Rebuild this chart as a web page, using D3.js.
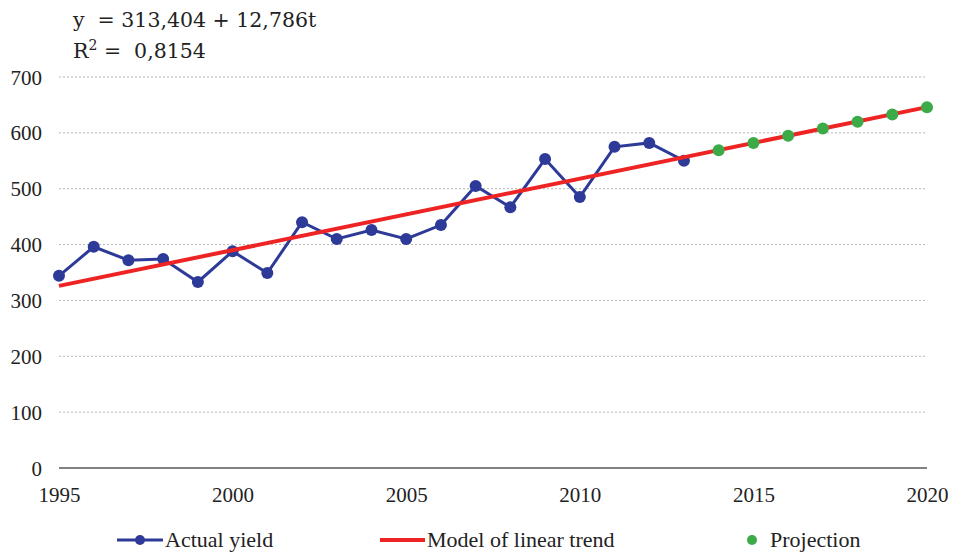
<!DOCTYPE html>
<html><head><meta charset="utf-8">
<script src="https://cdn.jsdelivr.net/npm/d3@7"></script>
<style>body{margin:0;background:#fff}svg{display:block}</style>
</head><body>
<svg id="c" width="953" height="552"></svg>
<script>
const years = [1995,1996,1997,1998,1999,2000,2001,2002,2003,2004,2005,2006,2007,2008,2009,2010,2011,2012,2013];
const actual = [344,396,372,374,333,388,349,440,410,426,410,435,505,467,553,485,575,582,550];
const projYears = [2014,2015,2016,2017,2018,2019,2020];
const projection = [569,582,595,608,620,633,646];
const trendYears = [1995,2020];
const trendValues = [326,646];
const yTicks = [0,100,200,300,400,500,600,700];
const xTicks = [1995,2000,2005,2010,2015,2020];
const legendLabels = ["Actual yield","Model of linear trend","Projection"];

const svg = d3.select("#c");
const x = d3.scaleLinear().domain([1995,2020]).range([59,927]);
const y = d3.scaleLinear().domain([0,700]).range([468,77]);
const font = "'Liberation Serif','Times New Roman',serif";
const blue="#2E3A97", red="#EE2424", green="#3BAA47";

// grid
svg.append("g").selectAll("line").data(yTicks.filter(d=>d>0)).join("line")
  .attr("x1",59).attr("x2",927).attr("y1",d=>y(d)).attr("y2",d=>y(d))
  .attr("stroke","#b5b5b5").attr("stroke-width",1).attr("stroke-dasharray","2,2");
svg.append("line").attr("x1",59).attr("x2",927).attr("y1",y(0)).attr("y2",y(0))
  .attr("stroke","#595959").attr("stroke-width",1.5);

// y axis labels
const ya = svg.append("g").attr("transform","translate(42,0)")
  .call(d3.axisLeft(y).tickValues(yTicks).tickSize(0).tickPadding(0));
ya.select(".domain").remove();
ya.selectAll("text").attr("font-family",font).attr("font-size",21).attr("fill","#222").attr("dy","0.34em");

const xa = svg.append("g").attr("transform","translate(0,502)")
  .call(d3.axisBottom(x).tickValues(xTicks).tickFormat(d3.format("d")).tickSize(0).tickPadding(0));
xa.select(".domain").remove();
xa.selectAll("text").attr("font-family",font).attr("font-size",21).attr("fill","#222").attr("dy","0").attr("y",0);

// actual line
svg.append("path").datum(years.map((d,i)=>[d,actual[i]]))
  .attr("fill","none").attr("stroke",blue).attr("stroke-width",3)
  .attr("d",d3.line().x(d=>x(d[0])).y(d=>y(d[1])));
svg.append("g").selectAll("circle").data(years.map((d,i)=>[d,actual[i]])).join("circle")
  .attr("cx",d=>x(d[0])).attr("cy",d=>y(d[1])).attr("r",6).attr("fill",blue);

// trend
svg.append("path").datum(trendYears.map((d,i)=>[d,trendValues[i]]))
  .attr("fill","none").attr("stroke",red).attr("stroke-width",4)
  .attr("d",d3.line().x(d=>x(d[0])).y(d=>y(d[1])));

// projection
svg.append("g").selectAll("circle").data(projYears.map((d,i)=>[d,projection[i]])).join("circle")
  .attr("cx",d=>x(d[0])).attr("cy",d=>y(d[1])).attr("r",6).attr("fill",green);

// equation
const eq = svg.append("g").attr("font-family","'DejaVu Serif','Liberation Serif',serif").attr("font-size",20.5).attr("fill","#222");
eq.append("text").attr("x",73).attr("y",27).attr("style","white-space:pre").text("y  = 313,404 + 12,786t");
const r2 = eq.append("text").attr("x",73).attr("y",58).attr("style","white-space:pre");
r2.append("tspan").text("R");
r2.append("tspan").attr("font-size",14).attr("dy",-8).text("2");
r2.append("tspan").attr("dy",8).text(" =  0,8154");

// legend
const lg = svg.append("g").attr("font-family",font).attr("font-size",22).attr("fill","#222");
lg.append("line").attr("x1",117).attr("x2",163).attr("y1",540).attr("y2",540).attr("stroke",blue).attr("stroke-width",3);
lg.append("circle").attr("cx",140).attr("cy",540).attr("r",5).attr("fill",blue);
lg.append("text").attr("x",165).attr("y",547).text(legendLabels[0]);
lg.append("line").attr("x1",380).attr("x2",425).attr("y1",540).attr("y2",540).attr("stroke",red).attr("stroke-width",4);
lg.append("text").attr("x",427).attr("y",547).text(legendLabels[1]);
lg.append("circle").attr("cx",752).attr("cy",540).attr("r",5).attr("fill",green);
lg.append("text").attr("x",770).attr("y",547).text(legendLabels[2]);
</script>
</body></html>
